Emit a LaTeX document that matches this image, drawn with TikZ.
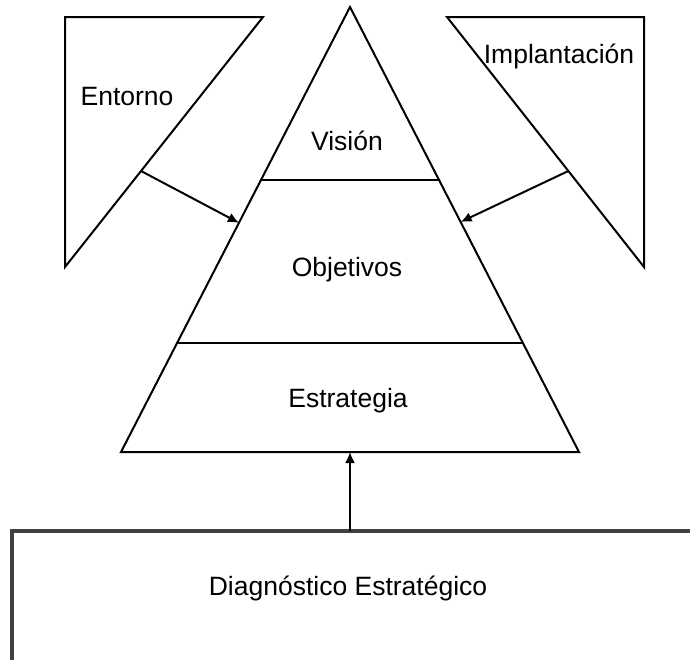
\documentclass[tikz,border=0pt]{standalone}
\usepackage{fontspec}
\setmainfont{Liberation Sans}
\usetikzlibrary{calc,arrows.meta}
\tikzstyle{outline}=[draw=black,line width=2pt,line join=miter]
\tikzstyle{tag}=[inner sep=0pt,anchor=base,font=\fontsize{26.5}{30}\selectfont]
\tikzstyle{link}=[line width=2pt,-{Latex[length=11pt,width=10pt]}]
\tikzstyle{diagbox}=[draw=black!75,line width=3.5pt]

\begin{document}
\begin{tikzpicture}[x=1pt,y=-1pt]
    \useasboundingbox (0,0) rectangle (690,659);
    \clip (0,0) rectangle (690,659);
    % pyramid
    \coordinate (top) at (350,7);
    \coordinate (bl) at (121,452);
    \coordinate (br) at (579,452);
    \draw[outline] (top) -- (br) -- (bl) -- cycle;
    \draw[outline] ($(top)!0.389!(bl)$) -- ($(top)!0.389!(br)$);
    \draw[outline] ($(top)!0.755!(bl)$) -- ($(top)!0.755!(br)$);
    % side triangles
    \coordinate (e1) at (65,17);
    \coordinate (e2) at (263,17);
    \coordinate (e3) at (65,267);
    \draw[outline] (e1) -- (e2) -- (e3) -- cycle;
    \coordinate (i1) at (447,17);
    \coordinate (i2) at (644,17);
    \coordinate (i3) at (644,267);
    \draw[outline] (i1) -- (i2) -- (i3) -- cycle;
    % bottom box
    \draw[diagbox] (12,531) rectangle (720,700);
    % labels
    \node[tag] (vision) at (347,150) {Visión};
    \node[tag] (obj) at (347,276) {Objetivos};
    \node[tag] (estr) at (348,407) {Estrategia};
    \node[tag] (ent) at (127,105) {Entorno};
    \node[tag] (impl) at (559,63) {Implantación};
    \node[tag] (diag) at (348,595) {Diagnóstico Estratégico};
    % arrows
    \coordinate (a1) at ($(e2)!0.616!(e3)$);
    \coordinate (b1) at ($(top)!0.485!(bl)$);
    \coordinate (a2) at ($(i1)!0.616!(i3)$);
    \coordinate (b2) at ($(top)!0.483!(br)$);
    \coordinate (a3) at (350,531);
    \coordinate (b3) at (350,452);
    \draw[link] (a1) -- (b1);
    \draw[link] (a2) -- (b2);
    \draw[link] (a3) -- (b3);
\end{tikzpicture}
\end{document}
